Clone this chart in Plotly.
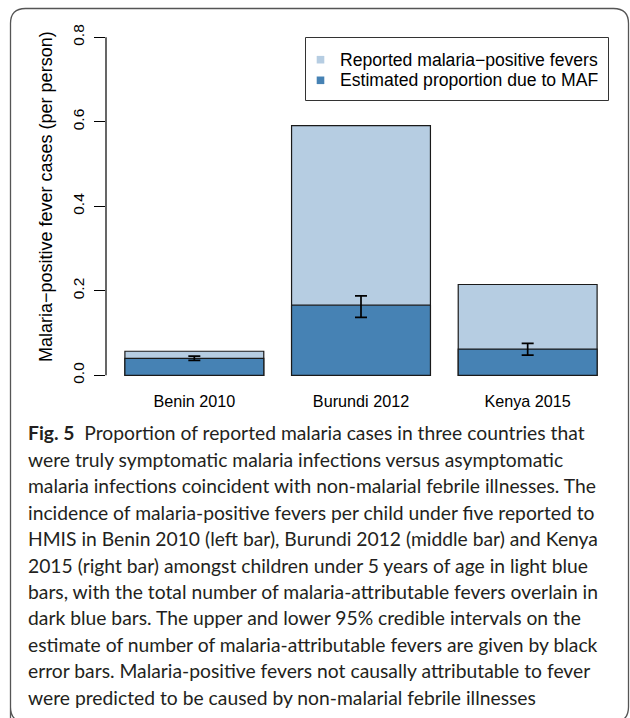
import plotly.graph_objects as go

# ---- data -------------------------------------------------------------
categories = ["Benin 2010", "Burundi 2012", "Kenya 2015"]
reported = [0.057, 0.591, 0.215]          # reported malaria-positive fevers
maf = [0.040, 0.166, 0.062]               # estimated proportion due to MAF
maf_upper = [0.0455, 0.188, 0.0755]       # upper 95% credible interval
maf_lower = [0.0355, 0.137, 0.048]        # lower 95% credible interval
y_ticks = [0.0, 0.2, 0.4, 0.6, 0.8]
y_tick_labels = ["0.0", "0.2", "0.4", "0.6", "0.8"]

legend_labels = ["Reported malaria\u2212positive fevers", "Estimated proportion due to MAF"]
y_title = "Malaria\u2212positive fever cases (per person)"

caption_lines = [
    "<b>Fig. 5</b>\u00a0\u00a0Proportion of reported malaria cases in three countries that",
    "were truly symptomatic malaria infections versus asymptomatic",
    "malaria infections coincident with non-malarial febrile illnesses. The",
    "incidence of malaria-positive fevers per child under five reported to",
    "HMIS in Benin 2010 (left bar), Burundi 2012 (middle bar) and Kenya",
    "2015 (right bar) amongst children under 5 years of age in light blue",
    "bars, with the total number of malaria-attributable fevers overlain in",
    "dark blue bars. The upper and lower 95% credible intervals on the",
    "estimate of number of malaria-attributable fevers are given by black",
    "error bars. Malaria-positive fevers not causally attributable to fever",
    "were predicted to be caused by non-malarial febrile illnesses",
]

# ---- styling ----------------------------------------------------------
LIGHT = "#B6CDE2"
DARK = "#4682B4"
EDGE = "#1a1a1a"
FONT = "Liberation Sans, Arial, sans-serif"
CAPTION_FONT = "Lato, Open Sans, sans-serif"

W, H = 630, 718
L, R, T, B = 106, 14, 37, 341
PW, PH = W - L - R, H - T - B

# bar centres: unit-width bars separated by 0.2 gaps
bar_x = [0.7 + 1.2 * i for i in range(len(categories))]


def px(x):
    return (x - L) / PW


def py(y):
    return 1 - (y - T) / PH


fig = go.Figure()

fig.add_trace(go.Bar(
    x=bar_x, y=reported, width=1.0, name=legend_labels[0],
    marker=dict(color=LIGHT, line=dict(color=EDGE, width=1.2)),
    showlegend=False, hoverinfo="skip",
))
fig.add_trace(go.Bar(
    x=bar_x, y=maf, width=1.0, name=legend_labels[1],
    marker=dict(color=DARK, line=dict(color=EDGE, width=1.2)),
    error_y=dict(
        type="data", symmetric=False,
        array=[u - m for u, m in zip(maf_upper, maf)],
        arrayminus=[m - lo for m, lo in zip(maf, maf_lower)],
        color="black", thickness=1.7, width=6,
    ),
    showlegend=False, hoverinfo="skip",
))

shapes = []
# y-axis line spanning the tick range
shapes.append(dict(type="line", xref="paper", yref="y", x0=0, x1=0, y0=0, y1=0.8,
                   line=dict(color="black", width=1.2)))

# legend box and keys
shapes.append(dict(type="rect", xref="paper", yref="paper",
                   x0=px(305.5), x1=px(608.5), y0=py(37.5), y1=py(100.5),
                   line=dict(color="#333333", width=1), fillcolor="white", layer="above"))
key_rows = [59.7, 80.3]
for yy, col in zip(key_rows, [LIGHT, DARK]):
    shapes.append(dict(type="rect", xref="paper", yref="paper",
                       x0=px(316.7), x1=px(324.3), y0=py(yy + 3.8), y1=py(yy - 3.8),
                       line=dict(width=0), fillcolor=col, layer="above"))

# rounded frame around figure and caption
x0, x1, y0, y1, r = 10.5, 628.5, 8.5, 722, 15
path = (f"M {px(x0)},{py(y1)} L {px(x0)},{py(y0 + r)} "
        f"Q {px(x0)},{py(y0)} {px(x0 + r)},{py(y0)} "
        f"L {px(x1 - r)},{py(y0)} Q {px(x1)},{py(y0)} {px(x1)},{py(y0 + r)} "
        f"L {px(x1)},{py(y1 - r)} Q {px(x1)},{py(y1)} {px(x1 - r)},{py(y1)} "
        f"L {px(x0 + r)},{py(y1)} Q {px(x0)},{py(y1)} {px(x0)},{py(y1 - r)} Z")
shapes.append(dict(type="path", xref="paper", yref="paper", path=path,
                   line=dict(color="#555555", width=1.3)))

annotations = []
for yy, txt in zip(key_rows, legend_labels):
    annotations.append(dict(xref="paper", yref="paper", x=px(338.3), y=py(yy),
                            xanchor="left", yanchor="middle", text=txt, showarrow=False,
                            font=dict(family=FONT, size=17.6, color="black")))

annotations.append(dict(xref="paper", yref="paper", x=px(46), y=py(197),
                        xanchor="center", yanchor="middle", text=y_title, textangle=-90,
                        showarrow=False, font=dict(family=FONT, size=18, color="black")))

cap_y0, cap_dy = 432.7, 26.46
for i, line in enumerate(caption_lines):
    annotations.append(dict(xref="paper", yref="paper", x=px(25.5), y=py(cap_y0 + i * cap_dy),
                            xanchor="left", yanchor="middle", text=line, showarrow=False,
                            font=dict(family=CAPTION_FONT, size=19.3, color="#231f20")))

fig.update_layout(
    width=W, height=H, autosize=False,
    margin=dict(l=L, r=R, t=T, b=B, pad=0),
    paper_bgcolor="white", plot_bgcolor="white",
    barmode="overlay",
    shapes=shapes, annotations=annotations,
    xaxis=dict(range=[0.064, 3.736], tickvals=bar_x, ticktext=categories,
               showgrid=False, zeroline=False, showline=False,
               ticks="outside", ticklen=10, tickcolor="rgba(0,0,0,0)",
               tickfont=dict(family=FONT, size=16.2, color="black")),
    yaxis=dict(range=[-0.004, 0.8008], tickvals=y_ticks, ticktext=y_tick_labels,
               tickangle=-90, showgrid=False, zeroline=False, showline=False,
               ticks="outside", ticklen=11, tickwidth=1.2, tickcolor="black",
               ticklabelstandoff=4,
               tickfont=dict(family=FONT, size=15.5, color="black")),
)

fig.write_html("out.html")
